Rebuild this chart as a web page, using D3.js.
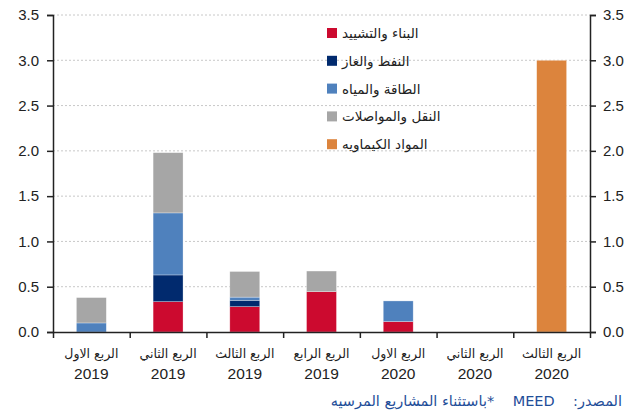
<!DOCTYPE html>
<html>
<head>
<meta charset="utf-8">
<script src="https://cdn.jsdelivr.net/npm/d3@7"></script>
<style>
  body { margin: 0; background: #fff; }
  svg { font-family: "Liberation Sans", Arial, sans-serif; }
</style>
</head>
<body>
<svg id="chart" width="637" height="412"></svg>
<script>
var quarters = ["الربع الاول", "الربع الثاني", "الربع الثالث", "الربع الرابع", "الربع الاول", "الربع الثاني", "الربع الثالث"];
var years = ["2019", "2019", "2019", "2019", "2020", "2020", "2020"];

var seriesNames = ["البناء والتشييد", "النفط والغاز", "الطاقة والمياه", "النقل والمواصلات", "المواد الكيماويه"];
var construction = [0, 0.335, 0.28, 0.445, 0.115, 0, 0];
var oilGas = [0, 0.295, 0.07, 0, 0, 0, 0];
var powerWater = [0.1, 0.685, 0.035, 0, 0.228, 0, 0];
var transport = [0.28, 0.665, 0.283, 0.228, 0, 0, 0];
var chemicals = [0, 0, 0, 0, 0, 0, 3.0];
var colors = ["#cc0a2f", "#012a6e", "#4f81bd", "#a6a6a6", "#dc843d"];

var yTicks = [0, 0.5, 1, 1.5, 2, 2.5, 3, 3.5];

var svg = d3.select("#chart");
var plotLeft = 53, plotRight = 590, plotTop = 15, plotBottom = 332;

var rows = quarters.map(function(q, i) {
    return { i: i, s0: construction[i], s1: oilGas[i], s2: powerWater[i], s3: transport[i], s4: chemicals[i] };
});
var keys = ["s0", "s1", "s2", "s3", "s4"];
var stacked = d3.stack().keys(keys)(rows);

var x = d3.scaleBand().domain(d3.range(quarters.length)).range([plotLeft, plotRight]).paddingInner(0.61).paddingOuter(0.305);
var xEdge = d3.scaleLinear().domain([0, quarters.length]).range([plotLeft, plotRight]);
var y = d3.scaleLinear().domain([0, 3.5]).range([plotBottom, plotTop]);

// grid lines
svg.append("g").selectAll("line")
    .data(yTicks.slice(1))
    .enter().append("line")
    .attr("x1", plotLeft).attr("x2", plotRight)
    .attr("y1", function(d) { return y(d); })
    .attr("y2", function(d) { return y(d); })
    .attr("stroke", "#c8c8c8")
    .attr("stroke-width", 1)
    .attr("stroke-dasharray", "2,2");

// bars
var layers = svg.append("g").selectAll("g")
    .data(stacked)
    .enter().append("g")
    .attr("fill", function(d, i) { return colors[i]; });

layers.selectAll("rect")
    .data(function(d) { return d.filter(function(p) { return p[1] - p[0] > 0; }); })
    .enter().append("rect")
    .attr("x", function(d) { return x(d.data.i); })
    .attr("width", x.bandwidth())
    .attr("y", function(d) { return y(d[1]); })
    .attr("height", function(d) { return y(d[0]) - y(d[1]); })
    .attr("stroke", "#ffffff")
    .attr("stroke-opacity", 0.5)
    .attr("stroke-width", 0.6);

// axes
var yLeft = d3.axisLeft(y).tickValues(yTicks).tickFormat(d3.format(".1f")).tickSize(6).tickPadding(8);
var yRight = d3.axisRight(y).tickValues(yTicks).tickFormat(d3.format(".1f")).tickSize(6).tickPadding(7);
var xAxis = d3.axisBottom(xEdge).tickValues(d3.range(quarters.length + 1)).tickFormat("").tickSize(6).tickSizeOuter(0);

function styleAxis(g) {
    g.attr("font-family", null);
    g.selectAll("path").attr("stroke", "#222").attr("stroke-width", 1.5);
    g.selectAll("line").attr("stroke", "#222").attr("stroke-width", 1.5);
    g.selectAll("text").attr("fill", "#222").style("font-size", "15px")
        .style("font-family", "'Liberation Sans', Arial, sans-serif");
}

svg.append("g").attr("transform", "translate(" + plotLeft + ",0)").call(yLeft).call(styleAxis);
svg.append("g").attr("transform", "translate(" + plotRight + ",0)").call(yRight).call(styleAxis);
svg.append("g").attr("transform", "translate(0," + plotBottom + ")").call(xAxis).call(styleAxis);

// x labels
var xl = svg.append("g").selectAll("g")
    .data(quarters)
    .enter().append("g")
    .attr("transform", function(d, i) { return "translate(" + (x(i) + x.bandwidth() / 2) + ",0)"; });

xl.append("text")
    .attr("y", 358)
    .attr("text-anchor", "middle")
    .attr("fill", "#222")
    .style("font-size", "12.5px")
    .style("font-family", "'DejaVu Sans', sans-serif")
    .text(function(d) { return d; });

xl.append("text")
    .attr("y", 379)
    .attr("text-anchor", "middle")
    .attr("fill", "#222")
    .style("font-size", "15.5px")
    .text(function(d, i) { return years[i]; });

// legend
var legend = svg.append("g").attr("transform", "translate(327, 28)");
var items = legend.selectAll("g")
    .data(seriesNames)
    .enter().append("g")
    .attr("transform", function(d, i) { return "translate(0," + i * 27.8 + ")"; });

items.append("rect")
    .attr("width", 10).attr("height", 10)
    .attr("fill", function(d, i) { return colors[i]; });

items.append("text")
    .attr("x", 15).attr("y", 10)
    .attr("fill", "#222")
    .style("font-size", "13.5px")
    .style("font-family", "'DejaVu Sans', sans-serif")
    .text(function(d) { return d; });

// source
svg.append("text")
    .attr("x", 622).attr("y", 406)
    .attr("text-anchor", "start")
    .attr("direction", "rtl")
    .style("direction", "rtl")
    .style("unicode-bidi", "embed")
    .style("white-space", "pre")
    .attr("fill", "#1f4e99")
    .style("font-size", "14.5px")
    .style("font-family", "'DejaVu Sans', sans-serif")
    .text("المصدر:    MEED    *باستثناء المشاريع المرسيه");
</script>
</body>
</html>
